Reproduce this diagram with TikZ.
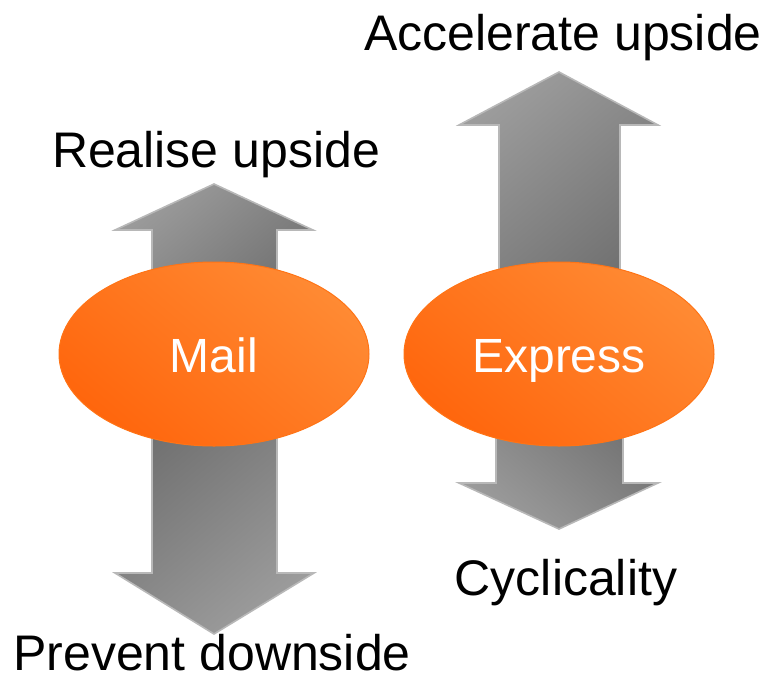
\documentclass[tikz,border=0pt]{standalone}
\usepackage{fontspec}
\setmainfont{Liberation Sans}
\usetikzlibrary{shapes.geometric}
\definecolor{arrowlight}{HTML}{9C9C9C}
\definecolor{arrowdark}{HTML}{6C6C6C}
\definecolor{arrowrim}{HTML}{B8B8B8}
\definecolor{orangelight}{HTML}{FF8A33}
\definecolor{orangedark}{HTML}{FF660D}
\definecolor{orangerim}{HTML}{FF7416}
\tikzset{
  arrowbody/.style={draw=arrowrim, line width=1.6pt, line join=miter},
  blob/.style={ellipse, draw=orangerim, line width=1pt,
    top color=orangelight, bottom color=orangedark, shading angle=-40,
    minimum width=310pt, minimum height=184pt, inner sep=0pt,
    text=white, font=\fontsize{48}{56}\selectfont,
    text height=36pt, text depth=0pt},
  caption/.style={anchor=base, inner sep=0pt, font=\fontsize{50}{60}\selectfont}
}
\begin{document}
\begin{tikzpicture}[x=1pt, y=-1pt]
\useasboundingbox (0,0) rectangle (768,694);

% Mail: upward arrow
\shade[arrowbody, top color=arrowlight, bottom color=arrowdark, shading angle=40]
  (152,330) -- (152,230) -- (115,230) -- (214,184) -- (313,230) -- (277,230) -- (277,330) -- cycle;
% Mail: downward arrow
\shade[arrowbody, top color=arrowdark, bottom color=arrowlight, shading angle=40]
  (152,380) -- (152,573) -- (115,573) -- (214,634) -- (314,573) -- (277,573) -- (277,380) -- cycle;
% Express: upward arrow
\shade[arrowbody, top color=arrowlight, bottom color=arrowdark, shading angle=40]
  (499,330) -- (499,125) -- (459,125) -- (559,72) -- (658,125) -- (620,125) -- (620,330) -- cycle;
% Express: downward arrow
\shade[arrowbody, top color=arrowdark, bottom color=arrowlight, shading angle=-40]
  (496,380) -- (496,483) -- (459,483) -- (559,529) -- (658,483) -- (623,483) -- (623,380) -- cycle;

% Business units
\node[blob] (mail) at (214,354) {Mail};
\node[blob] (express) at (559,354) {Express};

% Outcome labels
\node[caption] (accel) at (563,50) {Accelerate upside};
\node[caption] (realise) at (216,167) {Realise upside};
\node[caption] (cyclic) at (566,595) {Cyclicality};
\node[caption] (prevent) at (212,670) {Prevent downside};
\end{tikzpicture}
\end{document}
